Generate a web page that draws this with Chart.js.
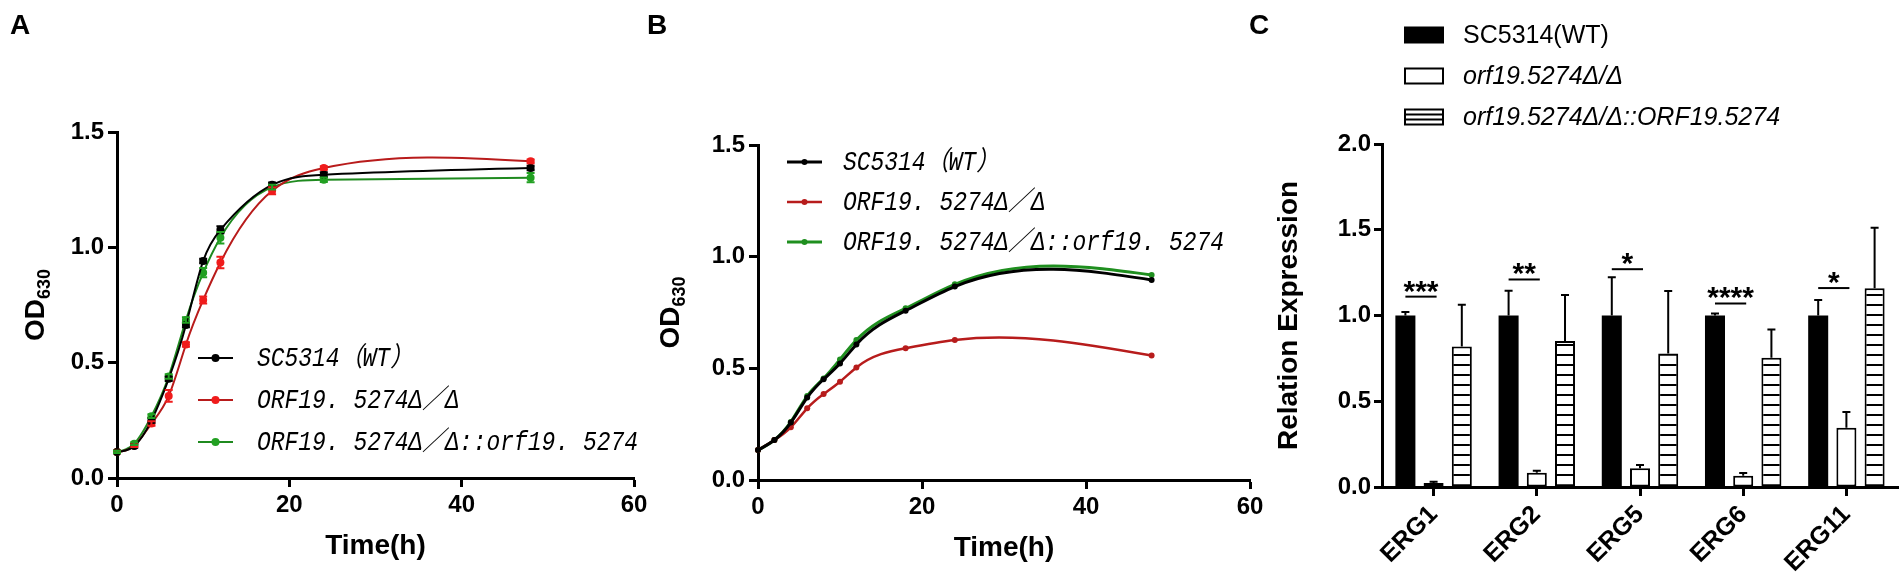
<!DOCTYPE html>
<html>
<head>
<meta charset="utf-8">
<script src="https://cdn.jsdelivr.net/npm/chart.js@4.4.1/dist/chart.umd.min.js"></script>
<style>
  html, body { margin: 0; padding: 0; background: #fff; }
  #wrap { position: relative; width: 1904px; height: 579px; overflow: hidden; }
  canvas { position: absolute; top: 0; }
</style>
</head>
<body>
<div id="wrap">
  <canvas id="chartA" width="660" height="579" style="left:0"></canvas>
  <canvas id="chartB" width="640" height="579" style="left:640px"></canvas>
  <canvas id="chartC" width="664" height="579" style="left:1240px"></canvas>
</div>
<script>
// ---- data ----
const hours = [0, 2, 4, 6, 8, 10, 12, 18, 24, 48];
const growthLabels = ['SC5314（WT）', 'ORF19. 5274Δ／Δ', 'ORF19. 5274Δ／Δ::orf19. 5274'];

// panel A (means and SD)
const aWT = [0.113, 0.139, 0.250, 0.430, 0.663, 0.941, 1.076, 1.271, 1.315, 1.344];
const aKO = [0.113, 0.140, 0.236, 0.356, 0.579, 0.772, 0.934, 1.245, 1.344, 1.373];
const aRE = [0.113, 0.149, 0.268, 0.440, 0.685, 0.890, 1.042, 1.261, 1.293, 1.302];
const aWTsd = [0.005, 0.008, 0.010, 0.010, 0.010, 0.010, 0.015, 0.010, 0.010, 0.010];
const aKOsd = [0.005, 0.006, 0.010, 0.025, 0.010, 0.015, 0.025, 0.015, 0.008, 0.008];
const aREsd = [0.005, 0.006, 0.008, 0.010, 0.012, 0.020, 0.025, 0.010, 0.010, 0.020];

// panel B
const bWT = [0.134, 0.179, 0.257, 0.369, 0.451, 0.522, 0.607, 0.758, 0.866, 0.896];
const bKO = [0.134, 0.179, 0.236, 0.321, 0.385, 0.440, 0.504, 0.590, 0.627, 0.557];
const bRE = [0.134, 0.179, 0.260, 0.376, 0.455, 0.540, 0.627, 0.769, 0.876, 0.918];

// panel C
const genes = ['ERG1', 'ERG2', 'ERG5', 'ERG6', 'ERG11'];
const exprLabels = ['SC5314(WT)', 'orf19.5274Δ/Δ', 'orf19.5274Δ/Δ::ORF19.5274'];
const exprWT = [1.0, 1.0, 1.0, 1.0, 1.0];
const exprKO = [0.023, 0.083, 0.109, 0.066, 0.346];
const exprRE = [0.819, 0.852, 0.778, 0.754, 1.159];
const sdWT = [0.020, 0.145, 0.223, 0.012, 0.091];
const sdKO = [0.007, 0.012, 0.019, 0.016, 0.091];
const sdRE = [0.243, 0.268, 0.365, 0.164, 0.352];
const sigMarks = ['***', '**', '*', '****', '*'];
const sigLevels = [1.11, 1.21, 1.27, 1.07, 1.16];

// ---- shared bits ----
Chart.defaults.font.family = '"Liberation Sans", Arial, sans-serif';
Chart.defaults.color = '#000';
Chart.defaults.animation = false;

const sans = '"Liberation Sans", Arial, sans-serif';
const mono = '"Liberation Mono", "Noto Sans CJK SC", monospace';
const pts = (ys) => ys.map((y, i) => ({ x: hours[i], y }));

function axisGrid(len) {
  return { drawOnChartArea: false, drawTicks: true, tickLength: len, tickWidth: 3, tickColor: '#000' };
}

// Prism-style curve: natural cubic spline through the points,
// handed to Chart.js as bezier control points of the line element
const naturalSpline = {
  id: 'naturalSpline',
  beforeDatasetDraw(chart, args) {
    const meta = args.meta;
    if (meta.type !== 'line') return;
    meta.dataset.updateControlPoints(chart.chartArea, 'x');
    const p = meta.data, n = p.length;
    const h = [], M = new Array(n).fill(0);
    for (let i = 0; i < n - 1; i++) h[i] = p[i + 1].x - p[i].x;
    const a = new Array(n).fill(0), b = new Array(n).fill(1), c = new Array(n).fill(0), d = new Array(n).fill(0);
    for (let i = 1; i < n - 1; i++) {
      a[i] = h[i - 1]; b[i] = 2 * (h[i - 1] + h[i]); c[i] = h[i];
      d[i] = 6 * ((p[i + 1].y - p[i].y) / h[i] - (p[i].y - p[i - 1].y) / h[i - 1]);
    }
    for (let i = 1; i < n; i++) {
      const w = a[i] / b[i - 1];
      b[i] -= w * c[i - 1]; d[i] -= w * d[i - 1];
    }
    M[n - 1] = d[n - 1] / b[n - 1];
    for (let i = n - 2; i >= 0; i--) M[i] = (d[i] - c[i] * M[i + 1]) / b[i];
    p[0].cp1x = p[0].x; p[0].cp1y = p[0].y;
    p[n - 1].cp2x = p[n - 1].x; p[n - 1].cp2y = p[n - 1].y;
    for (let i = 0; i < n - 1; i++) {
      const s = (p[i + 1].y - p[i].y) / h[i];
      const d0 = s - h[i] * (2 * M[i] + M[i + 1]) / 6;
      const d1 = s + h[i] * (M[i] + 2 * M[i + 1]) / 6;
      p[i].cp2x = p[i].x + h[i] / 3; p[i].cp2y = p[i].y + d0 * h[i] / 3;
      p[i + 1].cp1x = p[i + 1].x - h[i] / 3; p[i + 1].cp1y = p[i + 1].y - d1 * h[i] / 3;
    }
  }
};

// error bars for line and bar datasets
const errorBars = {
  id: 'errorBars',
  afterDatasetsDraw(chart, args, opts) {
    const { ctx } = chart;
    const y = chart.scales.y;
    chart.data.datasets.forEach((ds, i) => {
      if (!ds.errors) return;
      const meta = chart.getDatasetMeta(i);
      ctx.save();
      ctx.strokeStyle = ds.errorColor || '#000';
      ctx.lineWidth = opts.lineWidth;
      meta.data.forEach((el, j) => {
        const e = ds.errors[j];
        const v = typeof ds.data[j] === 'object' ? ds.data[j].y : ds.data[j];
        const top = y.getPixelForValue(v + e);
        const bot = opts.upOnly ? el.y : y.getPixelForValue(v - e);
        ctx.beginPath();
        ctx.moveTo(el.x, bot); ctx.lineTo(el.x, top);
        ctx.moveTo(el.x - opts.cap, top); ctx.lineTo(el.x + opts.cap, top);
        if (!opts.upOnly) { ctx.moveTo(el.x - opts.cap, bot); ctx.lineTo(el.x + opts.cap, bot); }
        ctx.stroke();
      });
      ctx.restore();
    });
  }
};

function rotatedTitle(ctx, x, y, parts) {
  ctx.save();
  ctx.translate(x, y);
  ctx.rotate(-Math.PI / 2);
  ctx.fillStyle = '#000';
  ctx.textBaseline = 'alphabetic';
  let total = 0;
  parts.forEach(p => { ctx.font = p.font; total += ctx.measureText(p.text).width; });
  let cx = -total / 2;
  parts.forEach(p => {
    ctx.font = p.font;
    ctx.fillText(p.text, cx, p.dy || 0);
    cx += ctx.measureText(p.text).width;
  });
  ctx.restore();
}

function odTitle(x) {
  return {
    id: 'odTitle',
    afterDraw(chart) {
      const a = chart.chartArea;
      rotatedTitle(chart.ctx, x, (a.top + a.bottom) / 2, [
        { text: 'OD', font: `bold 28px ${sans}` },
        { text: '630', font: `bold 18px ${sans}`, dy: 6 }
      ]);
    }
  };
}

function panelLetter(letter, x, y) {
  return {
    id: 'panelLetter',
    afterDraw(chart) {
      const ctx = chart.ctx;
      ctx.save();
      ctx.font = `bold 28px ${sans}`;
      ctx.fillStyle = '#000';
      ctx.textAlign = 'center';
      ctx.textBaseline = 'middle';
      ctx.fillText(letter, x, y);
      ctx.restore();
    }
  };
}

function growthLegend(box) {
  return {
    id: 'growthLegend',
    afterDraw(chart) {
      const ctx = chart.ctx;
      ctx.save();
      chart.data.datasets.forEach((ds, i) => {
        const y = box.y + i * box.dy;
        ctx.strokeStyle = ds.borderColor;
        ctx.lineWidth = ds.borderWidth;
        ctx.beginPath(); ctx.moveTo(box.x0, y); ctx.lineTo(box.x1, y); ctx.stroke();
        ctx.fillStyle = ds.pointBackgroundColor;
        ctx.beginPath(); ctx.arc((box.x0 + box.x1) / 2, y, ds.pointRadius, 0, Math.PI * 2); ctx.fill();
        // tall, narrow italic lettering
        ctx.save();
        ctx.translate(box.xt, y + 1);
        ctx.scale(0.85, 1);
        ctx.fillStyle = '#000';
        ctx.font = `italic 27px ${mono}`;
        ctx.textBaseline = 'middle';
        ctx.fillText(ds.label, 0, 0);
        ctx.restore();
      });
      ctx.restore();
    }
  };
}

function lineOptions(area, yWidth, xHeight, titlePad) {
  return {
    responsive: false,
    events: [],
    layout: { padding: { top: area.top, right: area.right, left: 0, bottom: 0 } },
    plugins: { legend: { display: false }, tooltip: { enabled: false }, errorBars: { lineWidth: 2, cap: 4, upOnly: false } },
    scales: {
      x: {
        type: 'linear', min: 0, max: 60,
        ticks: { stepSize: 20, font: { size: 24, weight: 'bold' }, padding: 4 },
        grid: axisGrid(9),
        border: { color: '#000', width: 3 },
        title: { display: true, text: 'Time(h)', font: { size: 28, weight: 'bold' }, padding: { top: 0, bottom: titlePad } },
        afterFit: s => { s.height = xHeight; }
      },
      y: {
        min: 0, max: 1.5,
        ticks: { stepSize: 0.5, font: { size: 24, weight: 'bold' }, padding: 4, callback: v => v.toFixed(1) },
        grid: axisGrid(9),
        border: { color: '#000', width: 3 },
        afterFit: s => { s.width = yWidth; }
      }
    }
  };
}

// ---- panel A ----
new Chart(document.getElementById('chartA'), {
  type: 'line',
  data: {
    datasets: [
      { label: growthLabels[0], data: pts(aWT), errors: aWTsd, errorColor: '#000',
        borderColor: '#000', pointBackgroundColor: '#000', pointBorderColor: '#000' },
      { label: growthLabels[1], data: pts(aKO), errors: aKOsd, errorColor: '#f01c1c',
        borderColor: '#b81b1b', pointBackgroundColor: '#f01c1c', pointBorderColor: '#f01c1c' },
      { label: growthLabels[2], data: pts(aRE), errors: aREsd, errorColor: '#22a022',
        borderColor: '#1f8a1f', pointBackgroundColor: '#22a022', pointBorderColor: '#22a022' }
    ].map(d => Object.assign(d, { borderWidth: 2, pointRadius: 4, pointBorderWidth: 0, tension: 0.4, clip: false }))
  },
  options: lineOptions({ top: 132, right: 26 }, 117, 101, 16),
  plugins: [naturalSpline, errorBars, odTitle(44), panelLetter('A', 20, 26), growthLegend({ x0: 198, x1: 233, xt: 257, y: 358, dy: 42 })]
});

// ---- panel B ----
new Chart(document.getElementById('chartB'), {
  type: 'line',
  data: {
    datasets: [
      { label: growthLabels[0], data: pts(bWT), borderColor: '#000', pointBackgroundColor: '#000', borderWidth: 3 },
      { label: growthLabels[1], data: pts(bKO), borderColor: '#b71c1c', pointBackgroundColor: '#b71c1c', borderWidth: 2.5 },
      { label: growthLabels[2], data: pts(bRE), borderColor: '#1f8f1f', pointBackgroundColor: '#1f8f1f', borderWidth: 3 }
    ].map(d => Object.assign(d, { pointRadius: 3, pointBorderWidth: 0, tension: 0.4, clip: false }))
  },
  options: lineOptions({ top: 145, right: 30 }, 118, 99, 14),
  plugins: [naturalSpline, odTitle(39), panelLetter('B', 17, 26), growthLegend({ x0: 147, x1: 182, xt: 203, y: 162, dy: 40 })]
});

// ---- panel C ----
const canvasC = document.getElementById('chartC');
function hatchPattern() {
  const c = document.createElement('canvas');
  c.width = 10; c.height = 10;
  const g = c.getContext('2d');
  g.fillStyle = '#fff'; g.fillRect(0, 0, 10, 10);
  g.fillStyle = '#000'; g.fillRect(0, 4, 10, 2);
  return canvasC.getContext('2d').createPattern(c, 'repeat');
}
const hatch = hatchPattern();

const significance = {
  id: 'significance',
  afterDatasetsDraw(chart) {
    const { ctx } = chart;
    const y = chart.scales.y;
    const m0 = chart.getDatasetMeta(0), m1 = chart.getDatasetMeta(1);
    ctx.save();
    ctx.strokeStyle = '#000'; ctx.fillStyle = '#000'; ctx.lineWidth = 2;
    ctx.font = `bold 30px ${sans}`;
    ctx.textAlign = 'center'; ctx.textBaseline = 'alphabetic';
    sigMarks.forEach((mark, j) => {
      const x1 = m0.data[j].x, x2 = m1.data[j].x + 3;
      const py = y.getPixelForValue(sigLevels[j]);
      ctx.beginPath(); ctx.moveTo(x1, py); ctx.lineTo(x2, py); ctx.stroke();
      ctx.fillText(mark, (x1 + x2) / 2, py + 4);
    });
    ctx.restore();
  }
};

const exprLegend = {
  id: 'exprLegend',
  afterDraw(chart) {
    const ctx = chart.ctx;
    const x0 = 165, w = 38, h = 15, xt = 223, y0 = 35, dy = 41;
    ctx.save();
    chart.data.datasets.forEach((ds, i) => {
      const y = y0 + i * dy;
      ctx.fillStyle = i === 0 ? '#000' : '#fff';
      ctx.fillRect(x0, y - h / 2, w, h);
      ctx.strokeStyle = '#000'; ctx.lineWidth = 2;
      ctx.strokeRect(x0, y - h / 2, w, h);
      if (i === 2) {
        ctx.beginPath();
        ctx.moveTo(x0, y - h / 6); ctx.lineTo(x0 + w, y - h / 6);
        ctx.moveTo(x0, y + h / 6); ctx.lineTo(x0 + w, y + h / 6);
        ctx.stroke();
      }
      ctx.fillStyle = '#000';
      ctx.font = `${i === 0 ? '' : 'italic '}25px ${sans}`;
      ctx.textBaseline = 'middle';
      ctx.fillText(ds.label, xt, y + 1);
    });
    ctx.restore();
  }
};

const yTitleC = {
  id: 'yTitleC',
  afterDraw(chart) {
    const a = chart.chartArea;
    rotatedTitle(chart.ctx, 57, (a.top + a.bottom) / 2, [{ text: 'Relation Expression', font: `bold 28px ${sans}` }]);
  }
};

new Chart(canvasC, {
  type: 'bar',
  data: {
    labels: genes,
    datasets: [
      { label: exprLabels[0], data: exprWT, errors: sdWT, backgroundColor: '#000', borderColor: '#000', borderWidth: 0 },
      { label: exprLabels[1], data: exprKO, errors: sdKO, backgroundColor: '#fff', borderColor: '#000', borderWidth: 2 },
      { label: exprLabels[2], data: exprRE, errors: sdRE, backgroundColor: hatch, borderColor: '#000', borderWidth: 2 }
    ].map(d => Object.assign(d, { categoryPercentage: 0.82, barPercentage: 0.71, borderSkipped: false }))
  },
  options: {
    responsive: false,
    events: [],
    layout: { padding: { top: 144, right: 6, left: 0, bottom: 0 } },
    plugins: { legend: { display: false }, tooltip: { enabled: false }, errorBars: { lineWidth: 2, cap: 4, upOnly: true } },
    scales: {
      x: {
        ticks: { font: { size: 25, weight: 'bold' }, minRotation: 45, maxRotation: 45, padding: 4 },
        grid: Object.assign(axisGrid(9), { offset: false }),
        border: { color: '#000', width: 3 },
        afterFit: s => { s.height = 92; }
      },
      y: {
        min: 0, max: 2,
        ticks: { stepSize: 0.5, font: { size: 24, weight: 'bold' }, padding: 3, callback: v => v.toFixed(1) },
        grid: axisGrid(8),
        border: { color: '#000', width: 3 },
        afterFit: s => { s.width = 142; }
      }
    }
  },
  plugins: [errorBars, significance, exprLegend, yTitleC, panelLetter('C', 19, 26)]
});
</script>
</body>
</html>
